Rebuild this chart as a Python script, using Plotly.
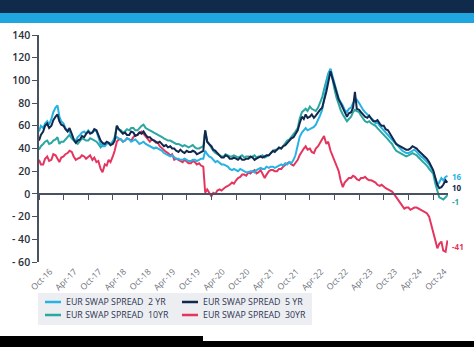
import pandas as pd
import plotly.graph_objects as go

# Semi-monthly observations, Oct 2016 - Jan 2025 (bp)
dates = pd.date_range("2016-10-01", periods=200, freq="SMS")

spread_2y = [
    55, 60, 58, 62, 64, 61, 66, 72, 76, 78, 68, 64,
    62, 58, 56, 55, 52, 48, 47, 50, 52, 54, 55, 53,
    56, 54, 54, 56, 55, 50, 44, 42, 42, 44, 45, 44,
    46, 48, 50, 49, 48, 46, 47, 49, 48, 46, 47, 48,
    46, 44, 45, 46, 44, 43, 42, 41, 40, 41, 40, 39,
    38, 36, 35, 34, 33, 34, 32, 31, 31, 30, 30, 31,
    30, 29, 29, 30, 30, 29, 30, 31, 31, 38, 35, 33,
    32, 30, 28, 29, 27, 26, 26, 25, 24, 22, 21, 22,
    21, 20, 22, 21, 20, 19, 19, 20, 20, 19, 21, 22,
    23, 22, 22, 24, 23, 24, 24, 23, 24, 25, 26, 25,
    27, 26, 28, 27, 30, 34, 42, 50, 54, 56, 58, 56,
    57, 58, 59, 61, 65, 69, 74, 84, 95, 104, 110, 104,
    96, 90, 84, 81, 78, 74, 72, 75, 76, 80, 82, 83,
    80, 77, 74, 72, 70, 68, 66, 65, 62, 63, 60, 58,
    56, 54, 52, 50, 48, 46, 44, 42, 40, 38, 37, 36,
    36, 37, 38, 39, 37, 35, 33, 32, 30, 28, 26, 23,
    20, 14, 8, 10, 14, 12, 15, 16,
]

spread_5y = [
    47, 52, 55, 60, 62, 58, 60, 65, 68, 70, 64, 61,
    60, 57, 55, 58, 53, 48, 45, 47, 48, 51, 50, 53,
    55, 53, 54, 57, 56, 52, 47, 45, 44, 46, 45, 43,
    44, 47, 60, 57, 55, 53, 54, 52, 52, 55, 54, 51,
    52, 54, 53, 55, 52, 50, 50, 48, 47, 46, 45, 46,
    44, 42, 43, 41, 42, 40, 40, 38, 37, 39, 37, 36,
    38, 37, 37, 38, 37, 35, 36, 37, 38, 56, 46, 44,
    42, 39, 38, 36, 34, 32, 32, 34, 33, 31, 31, 32,
    31, 30, 32, 30, 30, 31, 31, 33, 32, 30, 31, 32,
    33, 32, 33, 34, 34, 36, 38, 37, 39, 41, 40, 42,
    43, 45, 47, 49, 50, 53, 56, 62, 68, 66, 70, 67,
    68, 70, 67, 69, 72, 74, 76, 82, 90, 98, 108, 102,
    95, 90, 83, 80, 76, 72, 68, 71, 72, 76, 90, 75,
    74, 72, 70, 68, 67, 69, 66, 64, 64, 65, 62, 60,
    60, 57, 56, 53, 50, 47, 44, 43, 42, 41, 40, 39,
    39, 40, 42, 41, 40, 38, 36, 35, 33, 31, 28, 25,
    21, 15, 8, 5, 6, 8, 12, 10,
]

spread_10y = [
    39, 42, 44, 46, 47, 44, 45, 47, 48, 50, 44, 46,
    46, 48, 50, 52, 49, 47, 45, 44, 47, 49, 48, 47,
    47, 49, 48, 47, 46, 44, 41, 43, 44, 45, 45, 43,
    46, 50, 60, 57, 56, 54, 55, 57, 56, 58, 58, 56,
    56, 58, 60, 61, 58, 57, 56, 55, 54, 53, 52, 51,
    50, 49, 48, 47, 47, 46, 45, 44, 44, 43, 42, 43,
    42, 41, 42, 43, 41, 40, 40, 41, 42, 56, 46, 44,
    40, 38, 36, 35, 34, 33, 33, 35, 34, 33, 33, 34,
    33, 32, 33, 34, 32, 33, 33, 32, 33, 34, 32, 33,
    33, 34, 32, 33, 34, 36, 38, 39, 39, 40, 40, 42,
    45, 47, 48, 50, 52, 55, 58, 66, 72, 74, 75, 73,
    77, 75, 74, 73, 76, 80, 85, 92, 100, 106, 110, 100,
    92, 85, 78, 74, 70, 67, 64, 66, 68, 72, 74, 73,
    72, 69, 66, 64, 63, 64, 62, 61, 60, 58, 56, 54,
    52, 50, 48, 46, 44, 41, 38, 37, 36, 35, 34, 33,
    34, 35, 36, 35, 34, 32, 30, 29, 27, 25, 22, 20,
    18, 10, 2, -3, -4, -5, -3, -1,
]

spread_30y = [
    30, 26, 26, 31, 33, 29, 30, 35, 34, 31, 28, 32,
    33, 35, 36, 38, 37, 33, 30, 31, 32, 34, 33, 31,
    33, 34, 30, 32, 28, 29, 22, 19, 26, 25, 30, 28,
    33, 38, 46, 48, 48, 46, 47, 49, 48, 47, 50, 52,
    52, 54, 55, 53, 50, 48, 46, 48, 47, 45, 45, 42,
    40, 38, 37, 36, 34, 35, 30, 31, 30, 29, 28, 30,
    28, 27, 27, 29, 28, 26, 27, 25, 24, 1, 4, 1,
    -2, 1, 0, 3, 4, 3, 5, 6, 7, 8, 10, 9,
    12, 14, 15, 17, 17, 16, 19, 18, 20, 21, 18, 19,
    21, 18, 14, 17, 20, 21, 21, 20, 20, 22, 22, 24,
    26, 27, 28, 26, 25, 27, 30, 34, 38, 40, 42, 39,
    40, 37, 36, 40, 42, 45, 48, 51, 44, 46, 38, 34,
    30, 25, 20, 12, 6, 10, 12, 14, 14, 16, 15, 13,
    12, 14, 14, 15, 13, 12, 12, 11, 10, 8, 7, 8,
    6, 5, 4, 3, 2, 0, -3, -6, -8, -11, -13, -12,
    -12, -14, -13, -12, -12, -13, -14, -15, -16, -17, -20, -26,
    -32, -40, -48, -44, -42, -50, -51, -41,
]

series_names = ["EUR SWAP SPREAD\u00a0 2 YR", "EUR SWAP SPREAD\u00a0 5 YR",
                "EUR SWAP SPREAD\u00a0 10YR", "EUR SWAP SPREAD\u00a0 30YR"]
series_values = [spread_2y, spread_5y, spread_10y, spread_30y]
series_colors = ["#27b2e4", "#13284d", "#2aa7a0", "#e5355f"]
end_label_shift = [-1, -5, -6, -6]

x_tick_dates = pd.date_range("2016-10-01", "2024-10-01", freq="6MS")
x_tick_text = ["Oct-16", "Apr-17", "Oct-17", "Apr-18", "Oct-18", "Apr-19", "Oct-19",
               "Apr-20", "Oct-20", "Apr-21", "Oct-21", "Apr-22", "Oct-22", "Apr-23",
               "Oct-23", "Apr-24", "Oct-24"]
y_tick_vals = [-60, -40, -20, 0, 20, 40, 60, 80, 100, 120, 140]
y_tick_text = ["- 60", "- 40", "- 20", "0", "20", "40", "60", "80", "100", "120", "140"]

x_range = ["2016-10-01", "2025-01-19"]
y_range = [-60, 140]

W, H = 474, 347
M_L, M_R, M_T, M_B = 39, 26, 35, 85
PW, PH = W - M_L - M_R, H - M_T - M_B


def px(x):
    """pixel column -> paper x"""
    return (x - M_L) / PW


def py(y):
    """pixel row -> paper y"""
    return (H - M_B - y) / PH


fig = go.Figure()

# data lines (drawing order: 30Y, 10Y, 2Y, 5Y on top)
for idx in [3, 2, 0, 1]:
    fig.add_trace(go.Scatter(
        x=dates, y=series_values[idx], mode="lines", name=series_names[idx],
        line=dict(color=series_colors[idx], width=2),
        showlegend=False, hoverinfo="skip",
    ))

# carrier for the zero-line axis
fig.add_trace(go.Scatter(x=[None], y=[None], xaxis="x2", showlegend=False, hoverinfo="skip"))

# last-value labels
for vals, color, ys in zip(series_values, series_colors, end_label_shift):
    fig.add_annotation(
        x=dates[-1], y=vals[-1], text=f"<b>{vals[-1]}</b>", showarrow=False,
        xanchor="left", yanchor="middle", xshift=3, yshift=ys,
        font=dict(family="Open Sans", size=8, color=color),
    )

# header bands and footer bar
shapes = [
    dict(type="rect", xref="paper", yref="paper", x0=px(0), x1=px(W), y0=py(13), y1=py(0),
         fillcolor="#0f2a4b", line=dict(width=0), layer="above"),
    dict(type="rect", xref="paper", yref="paper", x0=px(0), x1=px(W), y0=py(23), y1=py(13),
         fillcolor="#1fa6de", line=dict(width=0), layer="above"),
    dict(type="rect", xref="paper", yref="paper", x0=px(0), x1=px(203), y0=py(H), y1=py(336),
         fillcolor="#000000", line=dict(width=0), layer="above"),
    dict(type="rect", xref="paper", yref="paper", x0=px(203), x1=px(W), y0=py(H), y1=py(341),
         fillcolor="#000000", line=dict(width=0), layer="above"),
    # legend panel
    dict(type="rect", xref="paper", yref="paper", x0=px(38), x1=px(312), y0=py(325), y1=py(293),
         fillcolor="#eceef1", line=dict(width=0), layer="below"),
]

# legend: two columns, two rows
legend_cols = [45, 182]
legend_rows = [302, 315]
for k, (name, color) in enumerate(zip(series_names, series_colors)):
    cx = legend_cols[k % 2]
    ry = legend_rows[k // 2]
    shapes.append(dict(type="line", xref="paper", yref="paper",
                       x0=px(cx), x1=px(cx + 16), y0=py(ry), y1=py(ry),
                       line=dict(color=color, width=2.5)))
    fig.add_annotation(
        x=px(cx + 19), y=py(ry), xref="paper", yref="paper", text=name, showarrow=False,
        xanchor="left", yanchor="middle",
        font=dict(family="Open Sans", size=8.8, color="#2d3552"),
    )

fig.update_layout(
    width=W, height=H,
    margin=dict(l=M_L, r=M_R, t=M_T, b=M_B, autoexpand=False),
    paper_bgcolor="white", plot_bgcolor="white",
    font=dict(family="Open Sans", color="#333a48"),
    shapes=shapes,
    showlegend=False,
    xaxis=dict(
        type="date", range=x_range, showgrid=False, zeroline=False, showline=False,
        automargin=False,
        ticks="", tickvals=x_tick_dates, ticktext=x_tick_text, tickangle=-45,
        ticklabelshift=11, ticklabelstandoff=2,
        tickfont=dict(family="Open Sans", size=8.5, color="#6a6f7a"),
    ),
    xaxis2=dict(
        type="date", range=x_range, matches="x", overlaying="x", anchor="free", position=0.3,
        automargin=False,
        showgrid=False, zeroline=False, showline=True, linecolor="#4a5160", linewidth=1.5,
        ticks="outside", ticklen=5, tickwidth=1.3, tickcolor="#4a5160",
        tickvals=x_tick_dates, showticklabels=False,
    ),
    yaxis=dict(
        range=y_range, showgrid=False, zeroline=False, showline=True, automargin=False,
        linecolor="#4a5160", linewidth=1.5, ticks="outside", ticklen=5, tickwidth=1.3,
        tickcolor="#4a5160", tickvals=y_tick_vals, ticktext=y_tick_text,
        tickfont=dict(family="Open Sans", size=10.5, color="#2b2f3a", weight=600),
    ),
)

fig.write_html("out.html")
